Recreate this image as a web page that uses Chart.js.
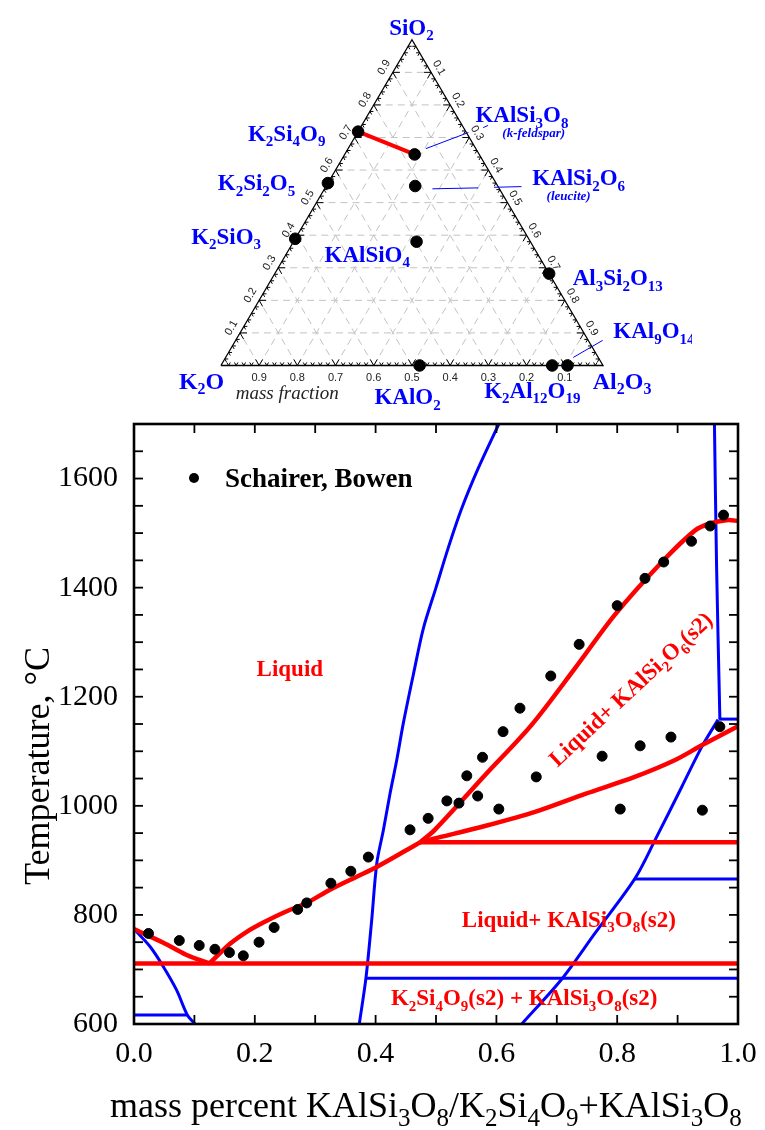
<!DOCTYPE html>
<html><head><meta charset="utf-8">
<script src="https://cdn.jsdelivr.net/npm/chart.js@4.4.1/dist/chart.umd.min.js"></script>
<style>
html,body{margin:0;padding:0;background:#fff;width:765px;height:1130px;overflow:hidden}
#tern{position:absolute;left:0;top:0}
#main{position:absolute;left:0;top:410px}
</style></head><body>
<canvas id="tern" width="765" height="410"></canvas>
<canvas id="main" width="765" height="720"></canvas>
<script>
// ================= DATA =================
// --- ternary diagram: compounds (mass fractions K2O / SiO2 / Al2O3) ---
const compounds = ['K_2Si_4O_9','K_2Si_2O_5','K_2SiO_3','KAlSi_3O_8','KAlSi_2O_6','KAlSiO_4','KAlO_2','K_2Al_12O_19','KAl_9O_14','Al_3Si_2O_13'];
const compK2O   = [0.282, 0.440, 0.611, 0.169, 0.216, 0.298, 0.480, 0.133, 0.093, 0.000];
const compSiO2  = [0.718, 0.560, 0.389, 0.648, 0.551, 0.380, 0.000, 0.000, 0.000, 0.282];
const compAl2O3 = [0.000, 0.000, 0.000, 0.183, 0.233, 0.322, 0.520, 0.867, 0.907, 0.718];
const ternTickValues = [0.1,0.2,0.3,0.4,0.5,0.6,0.7,0.8,0.9];

// --- main diagram ---
const schairerX = [0.024,0.075,0.108,0.134,0.158,0.181,0.207,0.232,0.271,0.286,0.326,0.359,0.388,0.457,0.487,0.518,0.538,0.551,0.569,0.577,0.604,0.611,0.639,0.666,0.690,0.737,0.775,0.800,0.805,0.838,0.846,0.877,0.889,0.923,0.941,0.954,0.970,0.976];
const schairerT = [766,753,744,737,731,725,750,777,810,822,858,880,906,956,977,1009,1005,1055,1018,1089,994,1136,1179,1053,1238,1296,1091,1367,994,1110,1417,1447,1126,1485,992,1513,1145,1533];

const eutecticX = [0, 1];            const eutecticT = [711, 711];
const peritecticX = [0.4735, 1];     const peritecticT = [933, 933];
const liqK2Si4O9X = [0, 0.0486, 0.0872, 0.125];
const liqK2Si4O9T = [774, 749, 726.5, 711];
const liqFeldsparX = [0.125, 0.159, 0.1866, 0.2141, 0.2472, 0.2859, 0.3245, 0.3687, 0.4018, 0.4515, 0.4735];
const liqFeldsparT = [711, 747, 769, 786, 804, 822, 846, 870, 888, 919, 933];
const liqLeuciteX = [0.4735, 0.498, 0.581, 0.658, 0.730, 0.796, 0.874, 0.929, 0.955, 0.984, 1.0];
const liqLeuciteT = [933, 956, 1056, 1148, 1252, 1350, 1447, 1505, 1518, 1524, 1522];
const leuciteFsX = [0.4735, 0.498, 0.581, 0.664, 0.747, 0.829, 0.896, 0.940, 1.0];
const leuciteFsT = [933, 940, 963, 989, 1022, 1053, 1084, 1111, 1146];

const blueLeftX = [0, 0.0265, 0.0486, 0.0706, 0.0883, 0.101];
const blueLeftT = [774, 742, 705, 662, 616.5, 600];
const blueLeftHX = [0, 0.0883];       const blueLeftHT = [616.5, 616.5];
const blueMidX = [0.373, 0.384, 0.3935, 0.402, 0.413, 0.424, 0.435, 0.446, 0.4624, 0.479, 0.500, 0.520, 0.5425, 0.570, 0.604];
const blueMidT = [600, 684, 790, 895, 956, 1023, 1084, 1152, 1240, 1325, 1400, 1472, 1545, 1619, 1700];
const blueH684X = [0.384, 1];         const blueH684T = [684, 684];
const blueRightX = [0.642, 0.708, 0.763, 0.829, 0.8626, 0.907, 0.940, 0.967];
const blueRightT = [600, 682, 766, 866, 937, 1035, 1108, 1158];
const blueH866X = [0.829, 1];         const blueH866T = [866, 866];
const blueH1159X = [0.968, 1];        const blueH1159T = [1159, 1159];
const blueVertX = [0.970, 0.9645, 0.961];
const blueVertT = [1159, 1441, 1700];

const xTickLabels = ['0.0','0.2','0.4','0.6','0.8','1.0'];
const yTickLabels = ['600','800','1000','1200','1400','1600'];

// ================= HELPERS =================
const SERIF = "'Liberation Serif','Times New Roman',Times,serif";
const SANS = "'Liberation Sans',Arial,Helvetica,sans-serif";
const RED = '#ff0000', BLUE = '#0000ff';

function parseRich(str){
  const segs=[]; const re=/_(\d+)/g; let last=0,m;
  while((m=re.exec(str))){ if(m.index>last) segs.push([str.slice(last,m.index),false]); segs.push([m[1],true]); last=re.lastIndex; }
  if(last<str.length) segs.push([str.slice(last),false]);
  return segs;
}
function drawRich(ctx,str,x,y,o){
  const size=o.size, style=(o.italic?'italic ':'')+(o.bold?'bold ':'');
  const fam=o.family||SERIF, subSize=Math.round(size*(o.subScale||0.65));
  const segs=parseRich(str);
  ctx.save();
  ctx.fillStyle=o.color||'#000'; ctx.textBaseline='alphabetic'; ctx.textAlign='left';
  let w=0; const ws=[];
  for(const [t,sub] of segs){ ctx.font=style+(sub?subSize:size)+'px '+fam; const mw=ctx.measureText(t).width; ws.push(mw); w+=mw; }
  let sx = o.align==='left'?0:(o.align==='right'?-w:-w/2);
  ctx.translate(x,y); if(o.rotate) ctx.rotate(o.rotate*Math.PI/180);
  const base=size*0.33;
  segs.forEach(([t,sub],i)=>{ ctx.font=style+(sub?subSize:size)+'px '+fam; ctx.fillText(t,sx,base+(sub?size*0.24:0)); sx+=ws[i]; });
  ctx.restore();
}
const mk=(xs,ys)=>xs.map((x,i)=>({x:x,y:ys[i]}));

// ================= TERNARY =================
const R3=Math.sqrt(3)/2;
function tern(k,s,a){ const t=k+s+a; return {x:(a+s*0.5)/t, y:(s*R3)/t}; }
const vK=tern(1,0,0), vS=tern(0,1,0), vA=tern(0,0,1);
const ternDots = compounds.map((c,i)=>tern(compK2O[i],compSiO2[i],compAl2O3[i]));

const ternLabels = [
  {t:'SiO_2',u:0.4987,v:0.8997,size:23},
  {t:'K_2O',u:-0.0506,v:-0.0404,size:24},
  {t:'Al_2O_3',u:1.050,v:-0.0404,size:24},
  {t:'K_2Si_4O_9',u:0.1722,v:0.6177,size:23},
  {t:'K_2Si_2O_5',u:0.0931,v:0.4866,size:23},
  {t:'K_2SiO_3',u:0.0136,v:0.3437,size:23},
  {t:'KAlSiO_4',u:0.383,v:0.2956,size:23},
  {t:'KAlO_2',u:0.4884,v:-0.0823,size:23},
  {t:'K_2Al_12O_19',u:0.8149,v:-0.0661,size:23},
  {t:'Al_3Si_2O_13',u:1.0386,v:0.2339,size:23},
  {t:'KAlSi_2O_6',u:0.9362,v:0.4995,size:23},
  {t:'KAlSi_3O_8',u:0.7879,v:0.6666,size:23},
  {t:'KAl_9O_14',u:1.1334,v:0.0925,size:23,clip:692}
];
const ternNotes = [
  {t:'(leucite)',u:0.910,v:0.4524},
  {t:'(k-feldspar)',u:0.8188,v:0.6177}
];
const leaderSegs = [
  [0.5365,0.5766,0.6478,0.6195],[0.6864,0.6324,0.6992,0.6383],
  [0.5535,0.4697,0.6735,0.4722],[0.7147,0.4738,0.7866,0.4756],
  [0.9221,0.0213,0.9992,0.0668]
];

const ternDecor={
  id:'ternDecor',
  beforeDatasetsDraw(chart){
    const {ctx,scales:{x,y}}=chart;
    const P=p=>[x.getPixelForValue(p.x),y.getPixelForValue(p.y)];
    ctx.save(); ctx.strokeStyle='#c2c2c2'; ctx.lineWidth=1; ctx.setLineDash([7,5]);
    const seg=(p,q)=>{const a=P(p),b=P(q);ctx.beginPath();ctx.moveTo(a[0],a[1]);ctx.lineTo(b[0],b[1]);ctx.stroke();};
    ternTickValues.forEach(f=>{
      seg(tern(1-f,f,0),tern(0,f,1-f));
      seg(tern(1-f,0,f),tern(0,1-f,f));
      seg(tern(f,0,1-f),tern(f,1-f,0));
    });
    ctx.restore();
  },
  afterDatasetsDraw(chart){
    const {ctx,scales:{x,y}}=chart;
    const P=p=>[x.getPixelForValue(p.x),y.getPixelForValue(p.y)];
    ctx.save();
    ctx.strokeStyle='#000'; ctx.lineWidth=1;
    const edges=[
      {pt:f=>tern(f,0,1-f), d:[[0.5,-R3],[-0.5,-R3]]},
      {pt:f=>tern(1-f,f,0), d:[[1,0],[0.5,R3]]},
      {pt:f=>tern(0,1-f,f), d:[[-1,0],[-0.5,R3]]}
    ];
    for(let i=1;i<50;i++){
      const f=i/50, L=(i%5===0)?7:3.5;
      edges.forEach(e=>{
        const p=P(e.pt(f));
        e.d.forEach(d=>{ctx.beginPath();ctx.moveTo(p[0],p[1]);ctx.lineTo(p[0]+d[0]*L,p[1]+d[1]*L);ctx.stroke();});
      });
    }
    ctx.fillStyle='#222'; ctx.font='11px '+SANS; ctx.textAlign='center'; ctx.textBaseline='middle';
    ternTickValues.forEach(f=>{
      const lab=f.toFixed(1);
      let p=P(tern(f,0,1-f)); ctx.fillText(lab,p[0],p[1]+12);
      p=P(tern(1-f,f,0)); ctx.save(); ctx.translate(p[0]-R3*10,p[1]-0.5*10); ctx.rotate(-Math.PI/3); ctx.fillText(lab,0,0); ctx.restore();
      p=P(tern(0,1-f,f)); ctx.save(); ctx.translate(p[0]+R3*9,p[1]-0.5*9); ctx.rotate(Math.PI/3); ctx.fillText(lab,0,0); ctx.restore();
    });
    ternLabels.forEach(l=>{
      const px=x.getPixelForValue(l.u), py=y.getPixelForValue(l.v);
      ctx.save();
      if(l.clip){ctx.beginPath();ctx.rect(0,0,l.clip,chart.height);ctx.clip();}
      drawRich(ctx,l.t,px,py,{size:l.size,bold:true,color:BLUE});
      ctx.restore();
    });
    ternNotes.forEach(l=>{
      drawRich(ctx,l.t,x.getPixelForValue(l.u),y.getPixelForValue(l.v),{size:13,bold:true,italic:true,color:BLUE});
    });
    drawRich(ctx,'mass fraction',x.getPixelForValue(0.1735),y.getPixelForValue(-0.072),{size:19,italic:true,color:'#222'});
    ctx.restore();
  }
};

const ternDatasets=[
  {data:[vK,vA,vS,vK],showLine:true,borderColor:'#000',borderWidth:1.3,pointRadius:0,order:3},
  {data:[ternDots[0],ternDots[3]],showLine:true,borderColor:RED,borderWidth:4,pointRadius:0,order:2}
];
leaderSegs.forEach(s=>ternDatasets.push({data:[{x:s[0],y:s[1]},{x:s[2],y:s[3]}],showLine:true,borderColor:BLUE,borderWidth:1,pointRadius:0,order:2}));
ternDatasets.push({data:ternDots,pointRadius:5.8,pointBackgroundColor:'#000',pointBorderColor:'#000',showLine:false,order:1});

new Chart(document.getElementById('tern'),{
  type:'scatter',
  data:{datasets:ternDatasets},
  options:{
    responsive:false,animation:false,devicePixelRatio:1,
    layout:{padding:0},
    plugins:{legend:{display:false},tooltip:{enabled:false}},
    scales:{
      x:{type:'linear',display:false,min:-0.5604,max:1.4062},
      y:{type:'linear',display:false,min:-0.1003,max:0.9537}
    }
  },
  plugins:[ternDecor]
});

// ================= MAIN =================
const regionLabels=[
  {t:'Liquid',x:0.258,y:1251,rot:0},
  {t:'Liquid+ KAlSi_2O_6(s2)',x:0.822,y:1214,rot:-43},
  {t:'Liquid+ KAlSi_3O_8(s2)',x:0.720,y:792,rot:0},
  {t:'K_2Si_4O_9(s2) + KAlSi_3O_8(s2)',x:0.646,y:648,rot:0}
];

const mainDecor={
  id:'mainDecor',
  afterDraw(chart){
    const {ctx,chartArea:a,scales:{x,y}}=chart;
    ctx.save();
    ctx.strokeStyle='#000'; ctx.lineWidth=1.8;
    const ln=(x1,y1,x2,y2)=>{ctx.beginPath();ctx.moveTo(x1,y1);ctx.lineTo(x2,y2);ctx.stroke();};
    x.ticks.forEach(t=>{const px=x.getPixelForValue(t.value); ln(px,a.bottom,px,a.bottom-9); ln(px,a.top,px,a.top+9);});
    y.ticks.forEach(t=>{const py=y.getPixelForValue(t.value); ln(a.left,py,a.left+9,py); ln(a.right,py,a.right-9,py);});
    ctx.lineWidth=2.6; ctx.strokeRect(a.left,a.top,a.right-a.left,a.bottom-a.top);
    ctx.fillStyle='#000'; ctx.beginPath(); ctx.arc(a.left+60,a.top+54,5,0,Math.PI*2); ctx.fill();
    drawRich(ctx,chart.data.datasets[0].label,a.left+91,a.top+54,{size:27,bold:true,align:'left',color:'#000'});
    regionLabels.forEach(r=>drawRich(ctx,r.t,x.getPixelForValue(r.x),y.getPixelForValue(r.y),{size:23,bold:true,color:RED,rotate:r.rot}));
    drawRich(ctx,'Temperature, °C',37,356,{size:36,rotate:-90,color:'#000'});
    drawRich(ctx,'mass percent KAlSi_3O_8/K_2Si_4O_9+KAlSi_3O_8',110,695,{size:36,subScale:0.7,align:'left',color:'#000'});
    ctx.restore();
  }
};

function lineDs(xs,ys,color,w,tension){
  return {data:mk(xs,ys),showLine:true,borderColor:color,borderWidth:w,pointRadius:0,tension:tension||0,fill:false,order:color===RED?1:2};
}

new Chart(document.getElementById('main'),{
  type:'scatter',
  data:{datasets:[
    {label:'Schairer, Bowen',data:mk(schairerX,schairerT),pointRadius:5,pointBackgroundColor:'#000',pointBorderColor:'#000',showLine:false,order:0},
    lineDs(eutecticX,eutecticT,RED,4.5),
    lineDs(peritecticX,peritecticT,RED,4.5),
    lineDs(liqK2Si4O9X,liqK2Si4O9T,RED,4.5,0.3),
    lineDs(liqFeldsparX,liqFeldsparT,RED,4.5,0.3),
    lineDs(liqLeuciteX,liqLeuciteT,RED,4.5,0.3),
    lineDs(leuciteFsX,leuciteFsT,RED,4.5,0.3),
    lineDs(blueLeftX,blueLeftT,BLUE,3,0.3),
    lineDs(blueLeftHX,blueLeftHT,BLUE,3),
    lineDs(blueMidX,blueMidT,BLUE,3,0.3),
    lineDs(blueH684X,blueH684T,BLUE,3),
    lineDs(blueRightX,blueRightT,BLUE,3,0.3),
    lineDs(blueH866X,blueH866T,BLUE,3),
    lineDs(blueH1159X,blueH1159T,BLUE,3),
    lineDs(blueVertX,blueVertT,BLUE,3,0.3)
  ]},
  options:{
    responsive:false,animation:false,devicePixelRatio:1,
    layout:{padding:{top:14,right:27,left:0,bottom:0}},
    plugins:{legend:{display:false},tooltip:{enabled:false}},
    scales:{
      x:{type:'linear',min:0,max:1,afterFit(s){s.height=106;s.paddingLeft=0;s.paddingRight=0;},
         grid:{display:false,drawTicks:false},border:{display:false},
         ticks:{stepSize:0.1,autoSkip:false,maxRotation:0,padding:12,color:'#000',font:{family:SERIF,size:30},
           callback:v=>{const i=Math.round(v*10); return i%2===0? xTickLabels[i/2]:'';}}},
      y:{type:'linear',min:600,max:1700,afterFit(s){s.width=134;s.paddingTop=0;s.paddingBottom=0;},
         grid:{display:false,drawTicks:false},border:{display:false},
         ticks:{stepSize:50,autoSkip:false,padding:16,color:'#000',font:{family:SERIF,size:30},
           callback:v=>{const i=yTickLabels.indexOf(String(v)); return i>=0? yTickLabels[i]:'';}}}
    }
  },
  plugins:[mainDecor]
});
</script>
</body></html>
